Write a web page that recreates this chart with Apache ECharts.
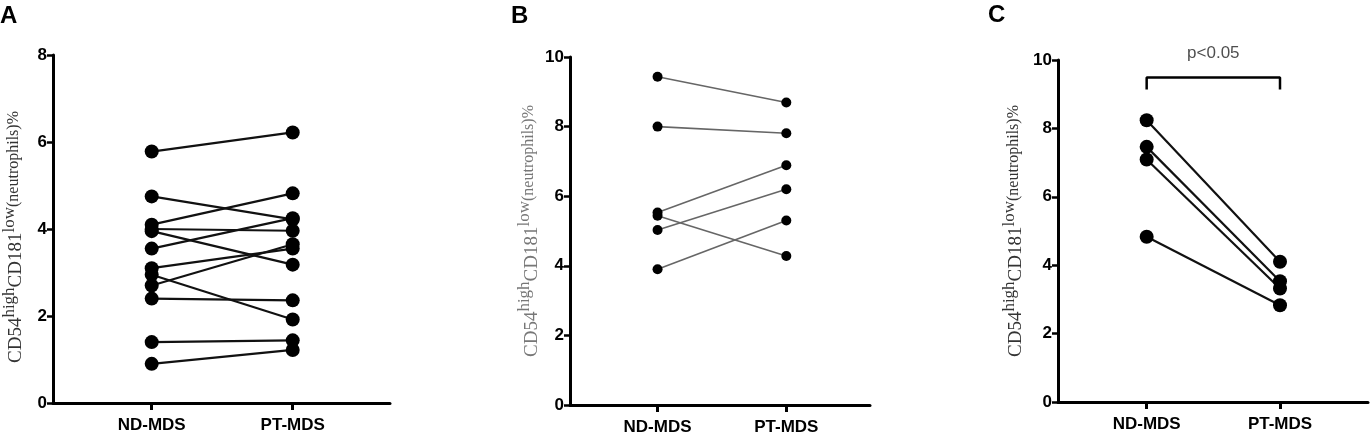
<!DOCTYPE html>
<html>
<head>
<meta charset="utf-8">
<script src="https://cdn.jsdelivr.net/npm/echarts@6/dist/echarts.min.js"></script>
<style>
  html, body { margin: 0; padding: 0; background: #fff; }
  #chart { width: 1372px; height: 436px; }
</style>
</head>
<body>
<div id="chart"></div>
<script>
// 分组
const groups = ['ND-MDS', 'PT-MDS'];

// A 面板 配对数据
const ndA = [5.78, 4.75, 4.10, 4.00, 3.95, 3.55, 3.10, 2.95, 2.70, 2.40, 1.40, 0.90];
const ptA = [6.22, 4.22, 4.82, 3.96, 3.18, 4.25, 3.55, 1.92, 3.65, 2.36, 1.44, 1.22];

// B 面板
const ndB = [9.43, 8.00, 5.53, 5.03, 5.44, 3.90];
const ptB = [8.69, 7.81, 6.89, 6.20, 4.28, 5.30];

// C 面板
const ndC = [8.24, 7.46, 7.09, 4.83];
const ptC = [4.10, 3.53, 3.32, 2.83];

// y 轴刻度
const yMaxA = 8, yMaxB = 10, yMaxC = 10;

// C 面板显著性括号
const bracketX = [0, 0, 1, 1];
const bracketY = [9.14, 9.49, 9.49, 9.14];
const pText = 'p<0.05';

const chart = echarts.init(document.getElementById('chart'));

// 坐标轴名称 (上标)
const axisName = '{m|CD54}{s|high}{m|CD181}{s|low}{n|(neutrophils)%}';
function nameStyle(color, pad) {
  return {
    fontFamily: 'Liberation Serif',
    color: color,
    padding: [0, pad, 0, 0],
    rich: {
      m: { fontSize: 19, fontFamily: 'Liberation Serif', color: color, verticalAlign: 'bottom', lineHeight: 25 },
      s: { fontSize: 17, fontFamily: 'Liberation Serif', color: color, verticalAlign: 'top', lineHeight: 25 },
      n: { fontSize: 16, fontFamily: 'Liberation Serif', color: color, verticalAlign: 'middle', lineHeight: 25 }
    }
  };
}

function makeXAxis(idx, min, max) {
  return {
    type: 'value', gridIndex: idx, min: min, max: max,
    splitLine: { show: false },
    axisLine: { onZero: false, lineStyle: { color: '#000', width: 3 } },
    axisTick: { show: true, customValues: [0, 1], length: 7, lineStyle: { color: '#000', width: 3 } },
    axisLabel: {
      customValues: [0, 1], margin: 14,
      formatter: v => groups[Math.round(v)],
      fontFamily: 'Liberation Sans', fontWeight: 'bold', fontSize: 17, color: '#000'
    }
  };
}

function makeYAxis(idx, max, gap, color, pad) {
  return {
    type: 'value', gridIndex: idx, min: 0, max: max, interval: 2,
    name: axisName, nameLocation: 'middle', nameRotate: 90, nameGap: gap,
    nameTextStyle: nameStyle(color, pad),
    splitLine: { show: false },
    axisLine: { show: true, onZero: false, lineStyle: { color: '#000', width: 3 } },
    axisTick: { show: true, length: 6, lineStyle: { color: '#000', width: 2.5 } },
    axisLabel: { margin: 6, fontFamily: 'Liberation Sans', fontWeight: 'bold', fontSize: 17, color: '#000' }
  };
}

// 配对连线
function pairLines(nd, pt, idx, color, width) {
  return nd.map((v, i) => ({
    type: 'line', xAxisIndex: idx, yAxisIndex: idx,
    data: [[0, v], [1, pt[i]]],
    symbol: 'none', silent: true, z: 2,
    lineStyle: { color: color, width: width }
  }));
}

// 数据点
function pairPoints(nd, pt, idx, size) {
  return {
    type: 'scatter', xAxisIndex: idx, yAxisIndex: idx,
    data: nd.map(v => [0, v]).concat(pt.map(v => [1, v])),
    symbolSize: size, z: 3,
    itemStyle: { color: '#000', opacity: 1 }
  };
}

const option = {
  animation: false,
  graphic: [
    { type: 'text', left: 0, top: 4, style: { text: 'A', font: 'bold 24px Liberation Sans', fill: '#000' } },
    { type: 'text', left: 511, top: 4, style: { text: 'B', font: 'bold 24px Liberation Sans', fill: '#000' } },
    { type: 'text', left: 988, top: 3, style: { text: 'C', font: 'bold 24px Liberation Sans', fill: '#000' } }
  ],
  grid: [
    { left: 53, top: 55, width: 337, height: 348 },
    { left: 570, top: 57, width: 300, height: 350 },
    { left: 1058, top: 60, width: 310, height: 342 }
  ],
  xAxis: [
    makeXAxis(0, -0.70, 1.69),
    makeXAxis(1, -0.68, 1.65),
    makeXAxis(2, -0.665, 1.66)
  ],
  yAxis: [
    makeYAxis(0, yMaxA, 27, '#333', 16),
    makeYAxis(1, yMaxB, 27, '#777', 0),
    makeYAxis(2, yMaxC, 32, '#333', 0)
  ],
  series: [
    ...pairLines(ndA, ptA, 0, '#111', 2.2),
    pairPoints(ndA, ptA, 0, 14),
    ...pairLines(ndB, ptB, 1, '#666', 1.6),
    pairPoints(ndB, ptB, 1, 10),
    ...pairLines(ndC, ptC, 2, '#111', 2.2),
    pairPoints(ndC, ptC, 2, 14),
    {
      type: 'line', xAxisIndex: 2, yAxisIndex: 2,
      data: bracketX.map((x, i) => [x, bracketY[i]]),
      symbol: 'none', silent: true,
      lineStyle: { color: '#000', width: 2.5 }
    },
    {
      type: 'scatter', xAxisIndex: 2, yAxisIndex: 2, clip: false,
      data: [[0.5, 10.2]], symbolSize: 0, silent: true,
      label: {
        show: true, position: 'inside', formatter: pText,
        fontFamily: 'Liberation Sans', fontSize: 17, color: '#222'
      }
    }
  ]
};

chart.setOption(option);
</script>
</body>
</html>
